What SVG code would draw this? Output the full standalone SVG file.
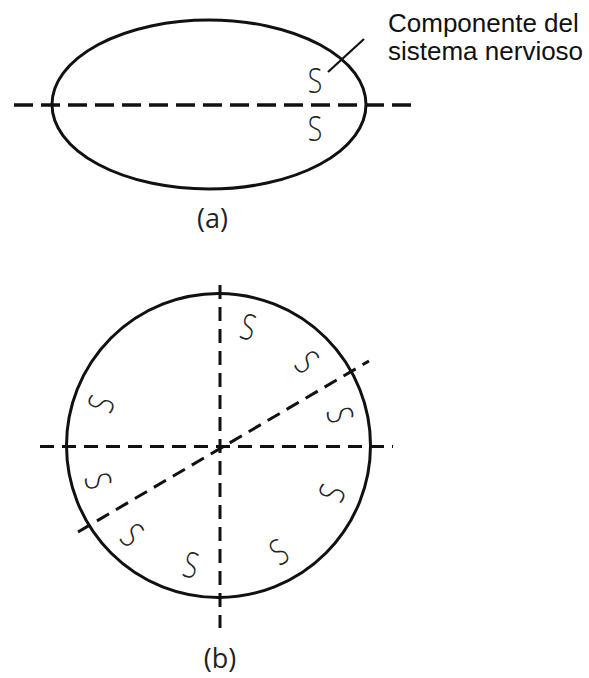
<svg xmlns="http://www.w3.org/2000/svg" width="589" height="678" viewBox="0 0 589 678">
<style>
.shape{fill:none;stroke:#111;stroke-width:3}
.dashA{fill:none;stroke:#111;stroke-width:3.5;stroke-dasharray:19 8}
.dashB{fill:none;stroke:#111;stroke-width:3;stroke-dasharray:14 8}
.lead{fill:none;stroke:#111;stroke-width:2.2}
.s{font-family:"Open Sans","DejaVu Sans",sans-serif;font-weight:300;font-size:34px;fill:#222;text-anchor:middle}
.lbl{font-family:"Open Sans","DejaVu Sans",sans-serif;font-size:27px;fill:#222;text-anchor:middle}
.note{font-family:"Liberation Sans",Arial,sans-serif;font-size:26px;fill:#111}
</style>
<rect width="589" height="678" fill="#fff"/>
<g id="figA">
  <ellipse class="shape" cx="209" cy="104.5" rx="157" ry="84.5"/>
  <line class="dashA" x1="14" y1="105" x2="419" y2="105"/>
  <text class="s" transform="translate(315,80) scale(0.78,1.05)" y="12">S</text>
  <text class="s" transform="translate(315,128) scale(0.78,1.05)" y="12">S</text>
  <line class="lead" x1="328" y1="72" x2="364" y2="39"/>
  <text class="lbl" x="212.5" y="228">(a)</text>
</g>
<g id="label">
  <text class="note" x="388" y="31.5">Componente del</text>
  <text class="note" x="388" y="59.5">sistema nervioso</text>
</g>
<g id="figB">
  <circle class="shape" cx="218.5" cy="445.5" r="152"/>
  <line class="dashB" x1="40" y1="446.5" x2="393" y2="446.5"/>
  <line class="dashB" x1="220" y1="285" x2="220" y2="628"/>
  <line class="dashB" x1="78" y1="532" x2="369" y2="361"/>
  <text class="s" transform="translate(248,327) rotate(14) scale(0.78,1.05)" y="12">S</text>
  <text class="s" transform="translate(307,362) rotate(47) scale(0.78,1.05)" y="12">S</text>
  <text class="s" transform="translate(340,415) rotate(76) scale(0.78,1.05)" y="12">S</text>
  <text class="s" transform="translate(101,404) rotate(-70) scale(0.78,1.05)" y="12">S</text>
  <text class="s" transform="translate(98,481) rotate(74) scale(0.78,1.05)" y="12">S</text>
  <text class="s" transform="translate(132,535) rotate(44) scale(0.78,1.05)" y="12">S</text>
  <text class="s" transform="translate(191,565) rotate(13) scale(0.78,1.05)" y="12">S</text>
  <text class="s" transform="translate(279,552) rotate(-30) scale(0.78,1.05)" y="12">S</text>
  <text class="s" transform="translate(332,493) rotate(-68) scale(0.78,1.05)" y="12">S</text>
  <text class="lbl" x="220" y="668">(b)</text>
</g>
</svg>
